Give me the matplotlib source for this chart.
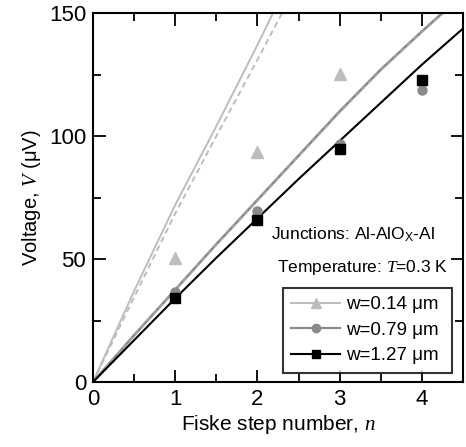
import numpy as np
import matplotlib
matplotlib.use("Agg")
import matplotlib.pyplot as plt
from matplotlib.ticker import MultipleLocator

plt.rcParams['font.family'] = ['Liberation Sans', 'DejaVu Sans']
plt.rcParams['mathtext.fontset'] = 'custom'
plt.rcParams['mathtext.rm'] = 'Liberation Sans'
plt.rcParams['mathtext.it'] = 'Liberation Serif:italic'

# measured Fiske step voltages (uV) vs step number
n_014 = [1, 2, 3]
v_014 = [50.4, 93.5, 125.2]
n_079 = [1, 2, 3, 4]
v_079 = [36.6, 69.5, 96.7, 118.7]
n_127 = [1, 2, 3, 4]
v_127 = [34.1, 65.9, 94.7, 122.8]

# calculated curves
fit_n_014 = [0, 0.5, 1, 1.5, 2, 2.19]
fit_v_014 = [0, 37, 72, 104, 137, 150]
fit_n_014d = [0, 0.5, 1, 1.5, 2, 2.30]
fit_v_014d = [0, 34.5, 68.5, 100, 131, 150]
fit_n_079 = [0, 0.5, 1, 1.5, 2, 2.5, 3, 3.5, 4, 4.25]
fit_v_079 = [0, 19, 37.5, 56, 74, 92, 110, 127, 142.5, 150]
fit_n_079d = [0, 0.5, 1, 1.5, 2, 2.5, 3, 3.5, 4, 4.26]
fit_v_079d = [0, 18.9, 37.4, 55.8, 73.8, 91.8, 109.7, 126.8, 142.3, 150]
fit_n_127 = [0, 0.5, 1, 1.5, 2, 2.5, 3, 3.5, 4, 4.5]
fit_v_127 = [0, 17, 34, 50.5, 66.5, 82.5, 98, 113.5, 129, 143.7]

light = '#bdbdbd'
mid = '#8a8a8a'

fig = plt.figure(figsize=(4.66, 4.47), dpi=100)
ax = fig.add_axes([93/466, 65/447, 370/466, 369/447])

ax.plot(fit_n_014, fit_v_014, color=light, lw=1.4)
ax.plot(fit_n_014d, fit_v_014d, color=light, lw=1.4, ls=(0, (3, 2)))
ax.plot(fit_n_079, fit_v_079, color=mid, lw=1.9)
ax.plot(fit_n_079d, fit_v_079d, color='#a4a4a4', lw=1.3, ls=(0, (3, 2)))
ax.plot(fit_n_127, fit_v_127, color='black', lw=1.5)

ax.plot(n_014, v_014, ls='none', marker='^', ms=8, color=light)
ax.plot(n_079, v_079, ls='none', marker='o', ms=6.5, color=mid)
ax.plot(n_127, v_127, ls='none', marker='s', ms=6.5, color='black')

# legend entries: line with marker
h1, = ax.plot([], [], color=light, lw=1.4, marker='^', ms=7)
h2, = ax.plot([], [], color=mid, lw=1.6, marker='o', ms=6)
h3, = ax.plot([], [], color='black', lw=1.5, marker='s', ms=6)
leg = ax.legend([h1, h2, h3], ['w=0.14 \u03bcm ', 'w=0.79 \u03bcm ', 'w=1.27 \u03bcm '],
                loc='lower right', bbox_to_anchor=(0.97, 0.025), fontsize=13.5,
                frameon=True, fancybox=False, handlelength=2.6, handletextpad=0.3,
                borderpad=0.45, labelspacing=0.45, borderaxespad=0)
leg.get_frame().set_edgecolor('black')
leg.get_frame().set_linewidth(1.5)

ax.text(0.925, 0.398, 'Junctions: Al-AlO$_{\\mathrm{X}}$-Al', transform=ax.transAxes,
        ha='right', va='center', fontsize=12.5)
ax.text(0.96, 0.31, 'Temperature: $T$=0.3 K', transform=ax.transAxes,
        ha='right', va='center', fontsize=12.5)

ax.set_xlim(0, 4.5)
ax.set_ylim(0, 150)
ax.xaxis.set_major_locator(MultipleLocator(1))
ax.xaxis.set_minor_locator(MultipleLocator(0.5))
ax.yaxis.set_major_locator(MultipleLocator(50))
ax.yaxis.set_minor_locator(MultipleLocator(25))
ax.tick_params(which='both', direction='in', top=True, right=True, width=1.3,
               labelsize=16, pad=5)
ax.tick_params(which='major', length=9)
ax.tick_params(which='minor', length=6)
for s in ax.spines.values():
    s.set_linewidth(1.5)

ax.set_xlabel('Fiske step number, $n$', fontsize=15, labelpad=2)
ax.set_ylabel('Voltage, $V$ (\u03bcV)', fontsize=14.5, labelpad=4)

fig.savefig('out.png', dpi=100)
